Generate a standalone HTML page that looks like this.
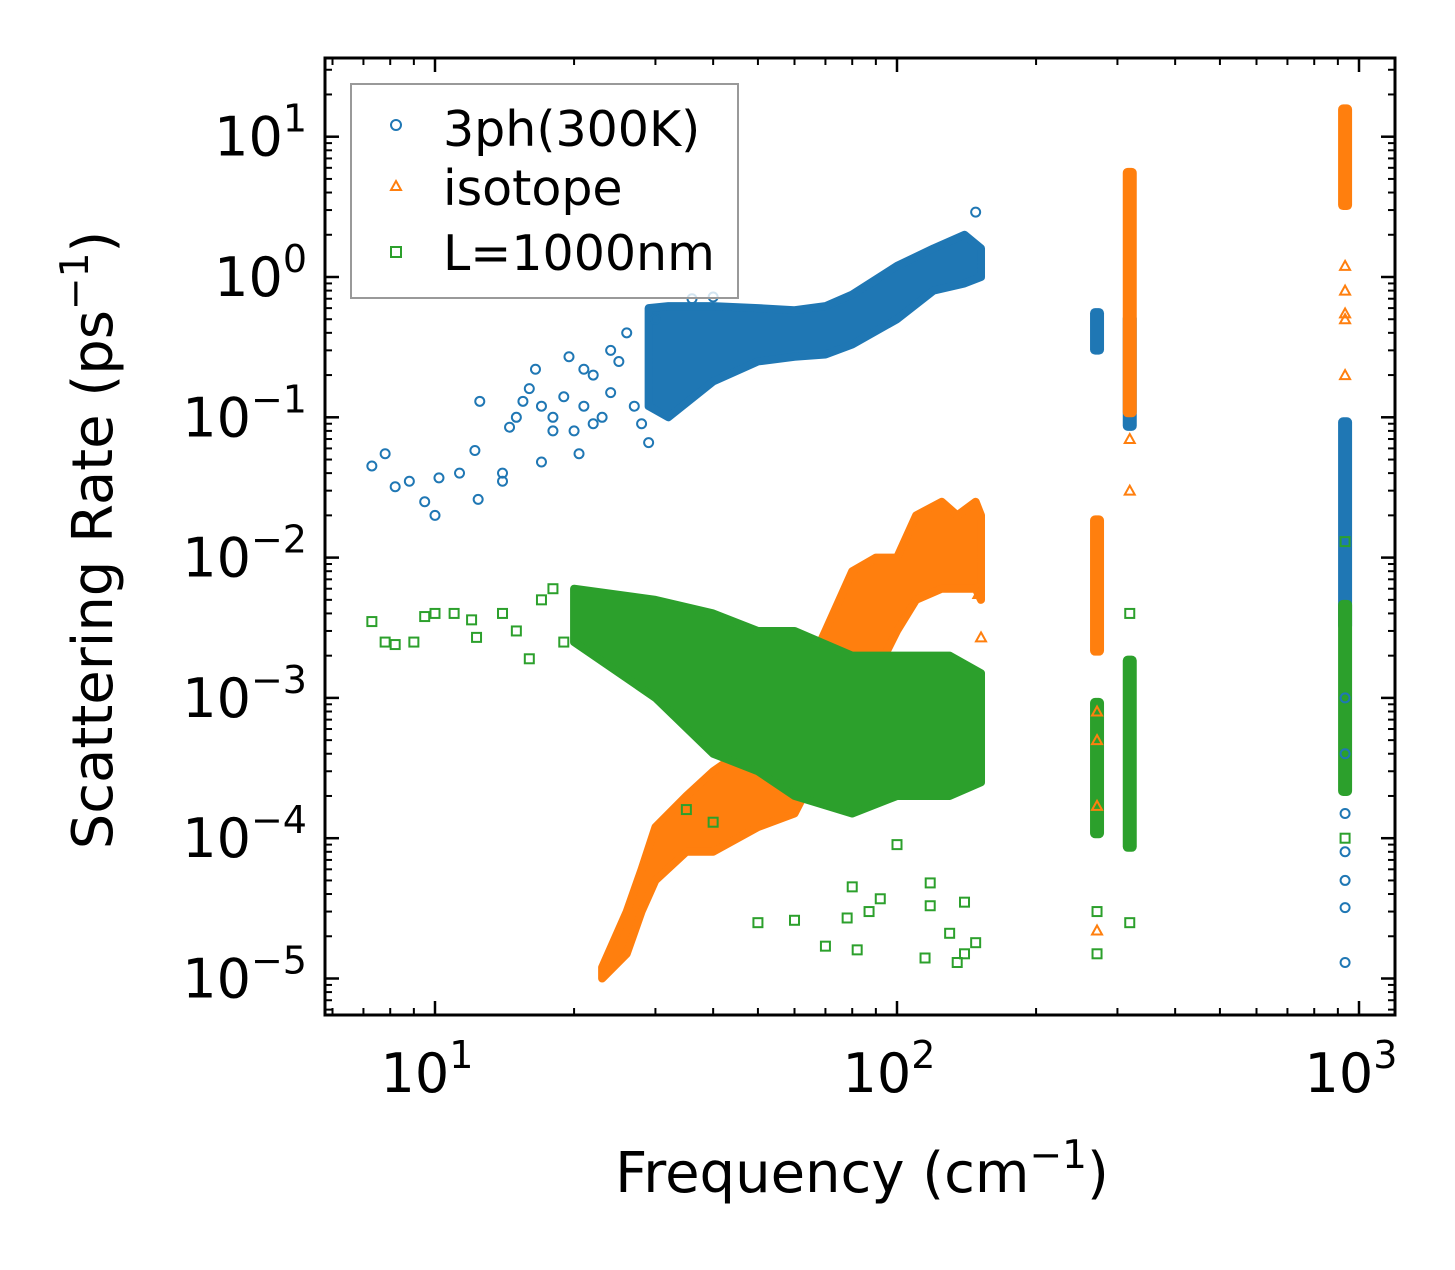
<!DOCTYPE html>
<html><head><meta charset="utf-8"><style>
body{margin:0;background:#fff}
svg text{font-family:"DejaVu Sans","Liberation Sans",sans-serif}
</style></head><body>
<svg id="c" width="1455" height="1265" viewBox="0 0 1455 1265" xmlns="http://www.w3.org/2000/svg">
<g id="bands"></g>
<g id="pts"></g>
<g id="axes"></g>
</svg>
<script>
// ---- data (freq in cm^-1, rate in ps^-1) ----
const blueBand = [[29,0.12,0.6],[32,0.1,0.62],[40,0.18,0.62],[50,0.25,0.6],[60,0.27,0.58],[70,0.28,0.62],[80,0.33,0.75],[100,0.5,1.2],[120,0.8,1.6],[140,0.9,2.0],[152,1.0,1.6]];
const blueCols = [[271,0.28,0.6],[319,0.08,0.55],[933,3e-3,0.1]];
const bluePts = [[7.3,0.045],[7.8,0.055],[8.2,0.032],[8.8,0.035],[9.5,0.025],[10,0.02],[10.2,0.037],[11.3,0.04],[12.2,0.058],[12.4,0.026],[12.5,0.13],[14,0.04],[14,0.035],[14.5,0.085],[15,0.1],[15.5,0.13],[16,0.16],[16.5,0.22],[17,0.048],[17,0.12],[18,0.08],[18,0.1],[19,0.14],[19.5,0.27],[20,0.08],[20.5,0.055],[21,0.22],[21,0.12],[22,0.2],[22,0.09],[23,0.1],[24,0.15],[24,0.3],[25,0.25],[26,0.4],[27,0.12],[28,0.09],[29,0.066],[30,0.5],[36,0.7],[40,0.72],[148,2.9],[933,1.3e-5],[933,3.2e-5],[933,5e-5],[933,8e-5],[933,1.5e-4],[933,4e-4],[933,1e-3]];
const orangeBand = [[23,1e-5,1.2e-5],[26,1.5e-5,3e-5],[28,3e-5,6e-5],[30,5e-5,1.2e-4],[35,8e-5,2e-4],[40,8e-5,3e-4],[50,1.2e-4,5e-4],[60,1.5e-4,1e-3],[70,4e-4,3e-3],[80,2e-3,8e-3],[90,1.5e-3,1e-2],[100,3e-3,0.01],[110,5e-3,0.02],[125,6e-3,0.025],[135,6e-3,0.02],[148,6e-3,0.025],[152,5e-3,0.02]];
const orangeCols = [[271,2e-3,0.02],[319,0.1,6],[933,3,17]];
const orangePts = [[271,1.7e-4],[271,5e-4],[271,8e-4],[271,2.2e-5],[319,0.03],[319,0.07],[933,0.5],[933,0.55],[933,0.8],[933,1.2],[933,0.2],[152,2.7e-3],[150,5.5e-3]];
const greenBand = [[20,2.5e-3,6e-3],[30,1e-3,5e-3],[40,4e-4,4e-3],[50,3e-4,3e-3],[60,2e-4,3e-3],[80,1.5e-4,2e-3],[100,2e-4,2e-3],[130,2e-4,2e-3],[152,2.5e-4,1.5e-3]];
const greenCols = [[271,1e-4,1e-3],[319,8e-5,2e-3],[933,2e-4,5e-3]];
const greenPts = [[7.3,3.5e-3],[7.8,2.5e-3],[8.2,2.4e-3],[9,2.5e-3],[9.5,3.8e-3],[10,4e-3],[11,4e-3],[12,3.6e-3],[12.3,2.7e-3],[14,4e-3],[15,3e-3],[16,1.9e-3],[17,5e-3],[18,6e-3],[19,2.5e-3],[50,2.5e-5],[60,2.6e-5],[70,1.7e-5],[78,2.7e-5],[80,4.5e-5],[82,1.6e-5],[87,3e-5],[92,3.7e-5],[115,1.4e-5],[118,4.8e-5],[118,3.3e-5],[130,2.1e-5],[135,1.3e-5],[140,1.5e-5],[148,1.8e-5],[140,3.5e-5],[271,1.5e-5],[271,3e-5],[319,2.5e-5],[319,4e-3],[933,0.013],[933,1e-4],[35,1.6e-4],[40,1.3e-4],[100,9e-5]];
const xTicks = [10,100,1000], xTickLabels = ["1","2","3"];
const yTicks = [10,1,0.1,0.01,1e-3,1e-4,1e-5], yTickLabels = ["1","0","\u22121","\u22122","\u22123","\u22124","\u22125"];

// ---- axes ----
const L=325,R=1395,T=58,B=1015;
const X=f=>435+(Math.log10(f)-1)*462;
const Y=v=>277-Math.log10(v)*140.3;
const NS="http://www.w3.org/2000/svg";
function mk(tag,attrs,parent){const e=document.createElementNS(NS,tag);for(const k in attrs)e.setAttribute(k,attrs[k]);parent.appendChild(e);return e;}
const bands=document.getElementById('bands'),pts=document.getElementById('pts'),axes=document.getElementById('axes');
const C={b:'#1f77b4',o:'#ff7f0e',g:'#2ca02c'};

function band(arr,col,name){
  let d='M'+arr.map(r=>X(r[0])+','+Y(r[2])).join('L');
  d+='L'+arr.slice().reverse().map(r=>X(r[0])+','+Y(r[1])).join('L')+'Z';
  const p=mk('path',{d:d,fill:col,stroke:col,'stroke-width':8,'stroke-linejoin':'round'},bands);
  
  
}
function cols(arr,col,name){
  arr.forEach(r=>{
    const x=X(r[0]);
    const p=mk('rect',{x:x-7,y:Y(r[2]),width:14,height:Y(r[1])-Y(r[2]),fill:col,rx:5},bands);
    
    
  });
}
function marker(kind,x,y,col,parent){
  let e;
  if(kind==='c') e=mk('circle',{cx:x,cy:y,r:4.5,fill:'none',stroke:col,'stroke-width':2},parent);
  else if(kind==='t') e=mk('path',{d:`M${x},${y-5}L${x+5},${y+4}L${x-5},${y+4}Z`,fill:'none',stroke:col,'stroke-width':2},parent);
  else e=mk('rect',{x:x-4.5,y:y-4.5,width:9,height:9,fill:'none',stroke:col,'stroke-width':2},parent);
  return e;
}
function points(arr,kind,col,name){
  arr.forEach(r=>{
    const e=marker(kind,X(r[0]),Y(r[1]),col,pts);
    
    
  });
}
band(blueBand,C.b,'3ph-cloud');cols(blueCols,C.b,'3ph-column');
band(orangeBand,C.o,'isotope-cloud');cols(orangeCols,C.o,'isotope-column');
band(greenBand,C.g,'boundary-cloud');cols(greenCols,C.g,'boundary-column');
points(bluePts,'c',C.b,'3ph-point');
points(orangePts,'t',C.o,'isotope-point');
points(greenPts,'s',C.g,'boundary-point');

const fr=mk('rect',{x:L,y:T,width:R-L,height:B-T,fill:'none',stroke:'#000','stroke-width':3},axes);


function line(x1,y1,x2,y2,w){mk('line',{x1,y1,x2,y2,stroke:'#000','stroke-width':w},axes);}
for(let d=0;d<4;d++)for(let m=1;m<10;m++){
  const f=m*Math.pow(10,d);const x=X(f);if(x<L||x>R)continue;
  const len=m===1?14:7,w=m===1?2.5:2;
  line(x,B,x,B-len,w);line(x,T,x,T+len,w);
}
for(let d=-6;d<2;d++)for(let m=1;m<10;m++){
  const v=m*Math.pow(10,d);const y=Y(v);if(y<T||y>B)continue;
  const len=m===1?14:7,w=m===1?2.5:2;
  line(L,y,L+len,y,w);line(R,y,R-len,y,w);
}
xTicks.forEach((v,i)=>{
  const t=mk('text',{x:X(v)-8,y:1092,'font-size':54,'text-anchor':'middle'},axes);
  t.textContent='10';
  const s=mk('tspan',{dy:-24,'font-size':38},t);s.textContent=xTickLabels[i];
  
  
});
yTicks.forEach((v,i)=>{
  const t=mk('text',{x:L-18,y:Y(v)+19,'font-size':54,'text-anchor':'end'},axes);
  t.textContent='10';
  const s=mk('tspan',{dy:-24,'font-size':38},t);s.textContent=yTickLabels[i];
  
  
});
</script>
<svg style="position:absolute;left:0;top:0" width="1455" height="1265" xmlns="http://www.w3.org/2000/svg">
<text x="862" y="1192" font-size="56" text-anchor="middle" font-family="DejaVu Sans, Liberation Sans, sans-serif">Frequency (cm<tspan dy="-24" font-size="39">−1</tspan><tspan dy="24">)</tspan></text>
<text transform="translate(112,540) rotate(-90)" font-size="56" text-anchor="middle" font-family="DejaVu Sans, Liberation Sans, sans-serif">Scattering Rate (ps<tspan dy="-24" font-size="39">−1</tspan><tspan dy="24">)</tspan></text>
<g>
<rect x="351" y="84" width="387" height="214" fill="#fff" fill-opacity="0.8" stroke="#999" stroke-width="2"/>
<circle cx="396" cy="125" r="5" fill="none" stroke="#1f77b4" stroke-width="2"/>
<text x="443" y="146" font-size="49" font-family="DejaVu Sans, Liberation Sans, sans-serif">3ph(300K)</text>
<path d="M396,181L401,190L391,190Z" fill="none" stroke="#ff7f0e" stroke-width="2"/>
<text x="443" y="205" font-size="49" font-family="DejaVu Sans, Liberation Sans, sans-serif">isotope</text>
<rect x="391" y="247" width="10" height="10" fill="none" stroke="#2ca02c" stroke-width="2"/>
<text x="443" y="270" font-size="49" font-family="DejaVu Sans, Liberation Sans, sans-serif">L=1000nm</text>
</g>
</svg>
</body></html>
